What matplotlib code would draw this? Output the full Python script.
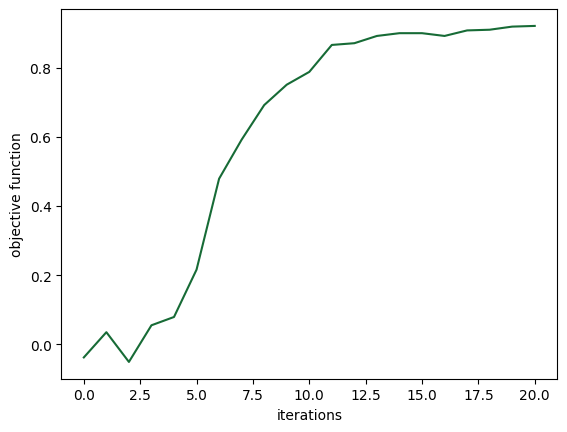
import matplotlib
matplotlib.use("Agg")
import matplotlib.pyplot as plt

iterations = list(range(21))
objective = [-0.038, 0.035, -0.051, 0.055, 0.079, 0.216, 0.479, 0.592, 0.692, 0.751,
             0.788, 0.866, 0.871, 0.892, 0.900, 0.900, 0.892, 0.908, 0.910, 0.919, 0.921]

fig, ax = plt.subplots(figsize=(6.4, 4.8), dpi=100)
ax.plot(iterations, objective, color='#176b36', linewidth=1.5)
ax.set_xlabel('iterations')
ax.set_ylabel('objective function')
fig.savefig('out.png', bbox_inches='tight')
